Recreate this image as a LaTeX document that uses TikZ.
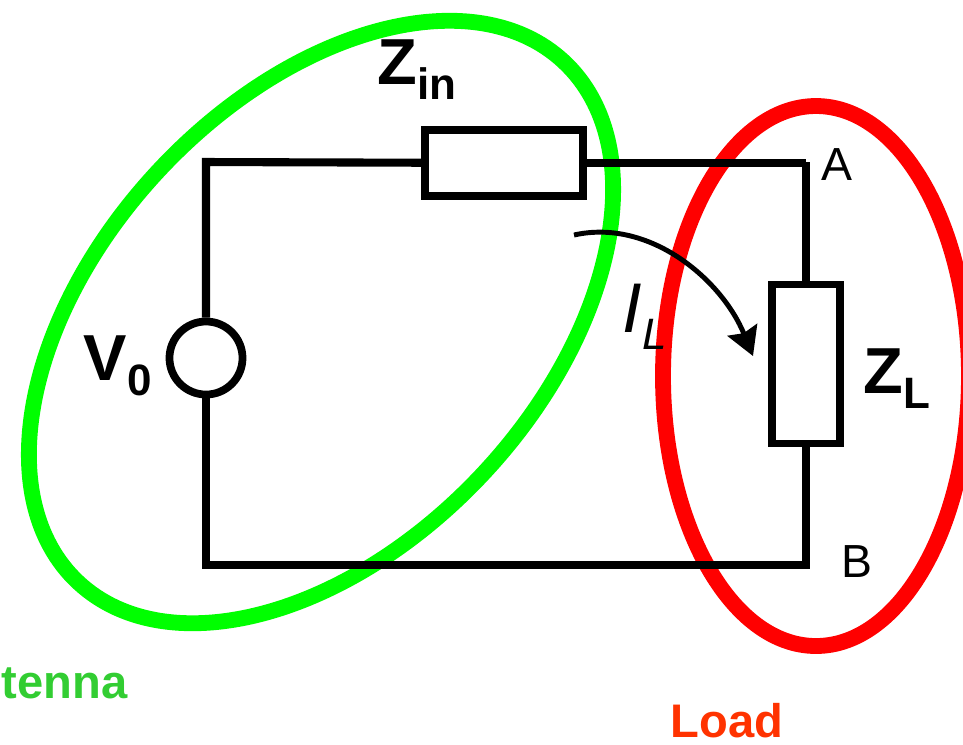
\documentclass[tikz,border=0pt]{standalone}
\usepackage{fontspec}
\setmainfont{Liberation Sans}
\usetikzlibrary{arrows.meta}
\definecolor{antgreen}{RGB}{0,255,0}
\definecolor{anttext}{RGB}{50,205,50}
\definecolor{loadred}{RGB}{255,0,0}
\definecolor{loadtext}{RGB}{255,51,0}
\newcommand{\lowsub}[3]{#1\raisebox{#3}{\fontsize{12.5}{12.5}\selectfont #2}}
\tikzset{
    wire/.style={line width=2.3pt},
    elem/.style={draw=black, line width=2.2pt, inner sep=0pt},
    loop/.style={line width=4.5pt},
    lbl/.style={inner sep=0pt, anchor=base west, font=\fontsize{13.2}{13.2}\selectfont},
    big/.style={inner sep=0pt, anchor=base west, font=\fontsize{18.5}{18.5}\selectfont\bfseries},
    tag/.style={inner sep=0pt, anchor=base west, font=\fontsize{13.4}{13.4}\selectfont\bfseries}
}
\begin{document}
\begin{tikzpicture}
        [x=0.01cm, y=-0.01cm, >=Stealth]

        \useasboundingbox (0, 0) rectangle (963, 744);

        \draw[loop, antgreen, rotate around={47:(321, 322)}] (321, 322) ellipse [x radius=356, y radius=222];
        \draw[loop, loadred] (816, 376) ellipse [x radius=153, y radius=270];

        \node[elem, minimum width=1.58cm, minimum height=0.66cm] (zin) at (504, 163) {};
        \node[elem, minimum width=0.68cm, minimum height=1.59cm] (zl) at (806, 364) {};
        \node[elem, circle, minimum size=0.73cm] (src) at (206, 358) {};

        \coordinate (tl) at (206, 162);
        \coordinate (tr) at (806, 162);
        \coordinate (bl) at (206, 565);
        \coordinate (br) at (806, 565);

        \draw[wire] (src) -- (tl) -- (zin);
        \draw[wire] (zin) -- (zin -| tr) -- (tr) -- (zl);
        \draw[wire] (zl) -- (br) -- (bl) -- (src);

        \coordinate (istart) at (574, 235);
        \coordinate (iend) at (753, 356);
        \draw[-{Stealth[length=8pt, width=9pt, inset=1pt]}, line width=1.4pt] (istart) .. controls (650, 218) and (722, 280) .. (iend);

        \node[lbl] (pta) at (821, 180) {A};
        \node[lbl] (ptb) at (841, 577) {B};
        \node[big] (zinlabel) at (377, 84) {\lowsub{Z}{in}{-4.3pt}};
        \node[big] (zllabel) at (863, 393) {\lowsub{Z}{L}{-4.3pt}};
        \node[big] (vlabel) at (83, 380) {\lowsub{V}{0}{-4.3pt}};
        \node[big, font=\fontsize{20}{20}\selectfont\itshape] (ilabel) at (622, 332) {\lowsub{I}{L}{-5pt}};
        \node[tag, text=anttext] (ant) at (1, 698) {tenna};
        \node[tag, text=loadtext] (load) at (670, 737) {Load};
\end{tikzpicture}
\end{document}
